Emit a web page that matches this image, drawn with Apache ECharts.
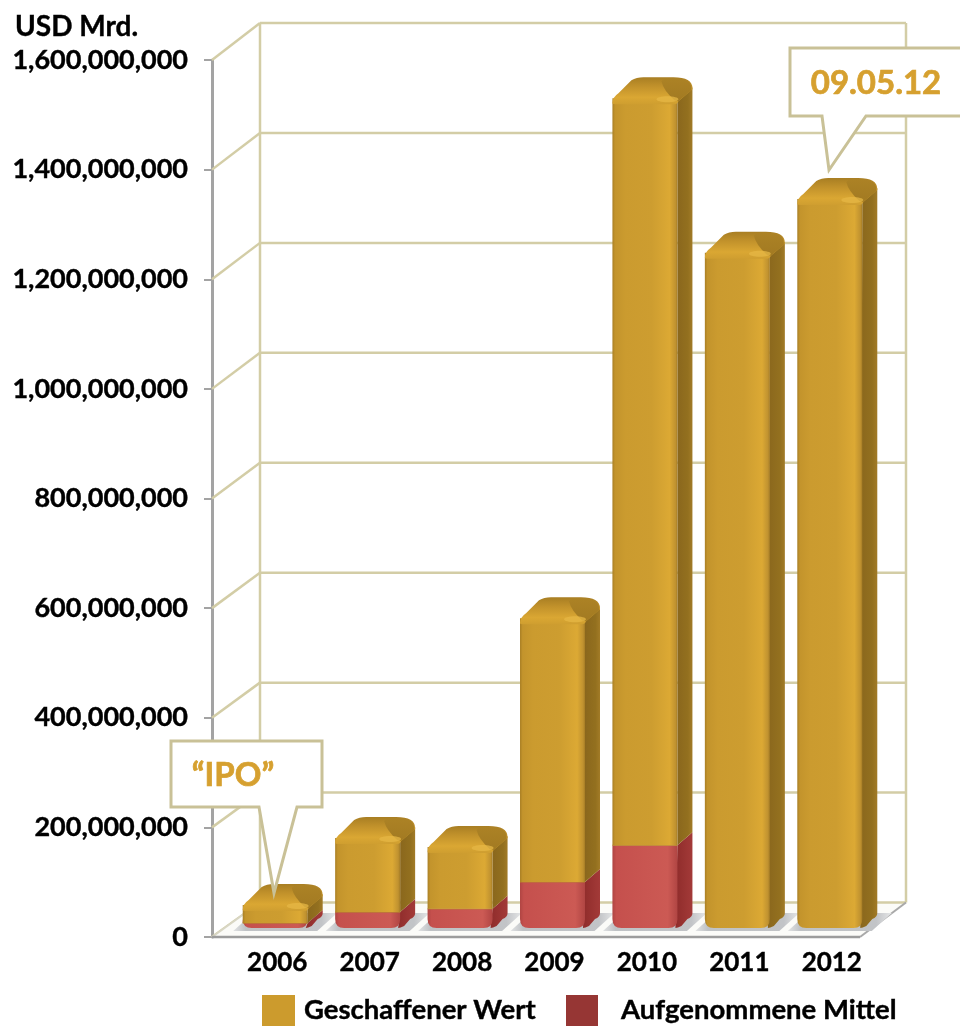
<!DOCTYPE html>
<html><head><meta charset="utf-8">
<style>html,body{margin:0;padding:0;background:#fff}#c{width:960px;height:1026px}</style>
<script src="https://cdn.jsdelivr.net/npm/echarts@6/dist/echarts.min.js"></script>
</head><body><div id="c"></div>
<script>
const categories = ['2006','2007','2008','2009','2010','2011','2012'];
const createdValue = [33000000,135000000,113000000,481000000,1363000000,1232000000,1330000000];
const raisedFunds = [9000000,29000000,35000000,84000000,151000000,0,0];
const axisTicks = [0,200000000,400000000,600000000,800000000,1000000000,1200000000,1400000000,1600000000];
const seriesNames = ['Geschaffener Wert','Aufgenommene Mittel'];
const titleText = 'USD Mrd.';
const calloutTexts = ['\u201CIPO\u201D','09.05.12'];

const FONT = 'Lato';
const WALL = '#D3CDA6';
const GOLD = '#CC9B2D';
const RED = '#963634';
const AXIS_SHIFT = 19;
const FLOOR_END = 18;
const hGrad = (stops) => ({type:'linear',x:0,y:0,x2:1,y2:0,colorStops:stops.map(s=>({offset:s[0],color:s[1]}))});
const vGrad = (stops) => ({type:'linear',x:0,y:0,x2:0,y2:1,colorStops:stops.map(s=>({offset:s[0],color:s[1]}))});

function renderWall(params, api){
  const cs = params.coordSys;
  const v = api.value(0);
  const t = v/1600000000;
  const y = api.coord([0,v])[1];
  const ax = cs.x-AXIS_SHIFT, dx = 48, dy = 34.5+2.5*t;
  const rightX = cs.x+cs.width-FLOOR_END+46;
  const kids = [];
  const st = {stroke:WALL,lineWidth:2.5,fill:null};
  kids.push({type:'line',shape:{x1:ax,y1:y,x2:ax+dx,y2:y-dy},style:st});
  if(v>0) kids.push({type:'line',shape:{x1:ax+dx,y1:y-dy,x2:rightX,y2:y-dy},style:st});
  if(v===0){
    const top = api.coord([0,1600000000])[1]-37;
    kids.push({type:'line',shape:{x1:ax+dx,y1:top,x2:ax+dx,y2:y-dy},style:st});
    kids.push({type:'line',shape:{x1:rightX,y1:top,x2:rightX,y2:y-dy},style:st});
    kids.push({type:'polygon',shape:{points:[[ax,y],[cs.x+cs.width-FLOOR_END,y],[rightX,y-dy],[ax+dx,y-dy]]},style:{fill:'#fbfbf8',stroke:null}});
    kids.push({type:'line',shape:{x1:ax+dx,y1:y-dy,x2:rightX,y2:y-dy},style:st});
    kids.push({type:'line',shape:{x1:ax,y1:y,x2:ax+dx,y2:y-dy},style:{stroke:'#D8D6C4',lineWidth:2}});
    kids.push({type:'line',shape:{x1:cs.x+cs.width-FLOOR_END,y1:y,x2:rightX,y2:y-dy},style:{stroke:'#A9A9A9',lineWidth:2}});
    kids.push({type:'line',shape:{x1:ax,y1:y,x2:cs.x+cs.width-FLOOR_END,y2:y},style:{stroke:'#9C9C9C',lineWidth:2.5}});
    categories.forEach((c,i)=>{
      const cx = api.coord([i,0])[0]-2;
      const x0=cx-42,x1=cx+42;
      kids.push({type:'polygon',shape:{points:[[x0,y-6],[x1,y-6],[x1+20,y-24],[x0+20,y-24]]},
        style:{fill:hGrad([[0,'#e2e3e4'],[0.12,'#bfc2c5'],[0.85,'#c2c4c7'],[1,'#e6e7e8']])}});
    });
  }
  return {type:'group',children:kids};
}

function renderBar(kind){
  return function(params, api){
    const i = api.value(0), val = api.value(1), base = api.value(2);
    if(!val) return null;
    const isCap = kind==='gold';
    const c = api.coord([i,base+val]);
    const b = api.coord([i,base]);
    const liftY = 9;
    const cx = c[0]-2, w = 65, x0=cx-w/2, x1=cx+w/2;
    const yt = c[1]-liftY, yb = b[1]-liftY;
    const sx = 15, sy = 13;
    const kids = [];
    const r = base===0?9:0;
    const frontFill = kind==='gold'
      ? hGrad([[0,'#A97F25'],[0.04,'#C3942C'],[0.2,'#CB9B2F'],[0.6,'#CD9D30'],[0.88,'#DCA934'],[0.97,'#C09230'],[1,'#A57C25']])
      : hGrad([[0,'#B04543'],[0.06,'#C5504D'],[0.85,'#CC5A54'],[1,'#B04543']]);
    const sideFill = kind==='gold'
      ? hGrad([[0,'#8A671D'],[0.7,'#93701F'],[1,'#A27B27']])
      : hGrad([[0,'#8F2C2B'],[1,'#A33A38']]);
    // side face
    const sideTop = isCap ? yt+2 : yt;
    kids.push({type:'path',shape:{pathData:
      `M${x1} ${sideTop} L${x1+sx} ${sideTop-sy} L${x1+sx} ${yb-sy-(r?2:0)} `+
      (r?`Q${x1+sx} ${yb-sy+2} ${x1+sx-5} ${yb-sy+4} L${x1+4} ${yb-2} Q${x1} ${yb} ${x1-2} ${yb} Z`:`L${x1} ${yb} Z`)},
      style:{fill:sideFill}});
    // front face
    kids.push({type:'path',shape:{pathData:
      `M${x0} ${yt} L${x1} ${yt} L${x1} ${yb-r} Q${x1} ${yb} ${x1-r} ${yb} L${x0+r} ${yb} Q${x0} ${yb} ${x0} ${yb-r} Z`},
      style:{fill:frontFill}});
    if(isCap){
      // rounded top cap
      const tb = yt-21;
      kids.push({type:'path',shape:{pathData:
        `M${x0} ${yt+5} Q${x0} ${yt-1} ${x0+6} ${yt-5} L${x0+19} ${tb+3} Q${x0+24} ${tb} ${x0+31} ${tb} L${x1-4} ${tb} Q${x1+sx} ${tb} ${x1+sx} ${tb+11} `+
        `L${x1+sx} ${yt-9} L${x1+1} ${yt+3} Q${x1} ${yt+6} ${x1-3} ${yt+6} L${x0+3} ${yt+6} Q${x0} ${yt+6} ${x0} ${yt+5} Z`},
        style:{fill:vGrad([[0,'#A87E23'],[0.35,'#C2922B'],[0.75,'#DAA733'],[1,'#CF9E30']])}});
      // darker right part of the cap
      kids.push({type:'path',shape:{pathData:
        `M${x1-3} ${yt+2} Q${x1-14} ${yt-8} ${x1-16} ${tb+4} Q${x1-14} ${tb+1} ${x1-8} ${tb+1} L${x1-4} ${tb+1} Q${x1+sx-1} ${tb+1} ${x1+sx-1} ${tb+11} L${x1+sx-1} ${yt-8} L${x1+1} ${yt+3} Z`},
        style:{fill:vGrad([[0,'#AC8225'],[1,'#A27A22']])}});
      // highlight at the front corner
      kids.push({type:'ellipse',shape:{cx:x1-10,cy:yt+1,rx:11,ry:3},style:{fill:'#E6B745',opacity:0.75}});
    } else {
      kids.push({type:'line',shape:{x1:x0,y1:yt,x2:x1,y2:yt},style:{stroke:'#B8872C',lineWidth:1}});
    }
    return {type:'group',children:kids};
  };
}

function calloutGraphic(rect, tail, text, fontSize, tx, ty){
  const [l,t,r,b] = rect;
  const pts = [[l,t],[r,t],[r,b],[tail[1],b],[tail[2],tail[3]],[tail[0],b],[l,b]];
  return [
    {type:'polygon',z:100,shape:{points:pts},style:{fill:'#fff',stroke:'#C9C197',lineWidth:3}},
    {type:'text',z:101,x:tx,y:ty,style:{text:text,fill:'#D6A02F',font:`bold ${fontSize}px ${FONT}`,textAlign:'center',textVerticalAlign:'middle',stroke:'#D6A02F',lineWidth:0.7}}
  ];
}

const chart = echarts.init(document.getElementById('c'),null,{renderer:'canvas'});
const ink = {color:'#000',fontFamily:FONT,fontWeight:'bold',textBorderColor:'#000',textBorderWidth:0.4};
chart.setOption({
  animation:false,
  backgroundColor:'#fff',
  title:{text:titleText,left:15,top:13,padding:0,textStyle:{...ink,fontSize:28}},
  grid:{left:231,top:60,width:647,height:877,containLabel:false},
  xAxis:{type:'category',data:categories,axisLine:{show:false},axisTick:{show:false},splitLine:{show:false},
    axisLabel:{...ink,fontSize:26,margin:13}},
  yAxis:{type:'value',min:0,max:1600000000,interval:200000000,offset:AXIS_SHIFT,
    axisLine:{show:true,lineStyle:{color:'#A3A3A3',width:3}},
    axisTick:{show:true,length:8,lineStyle:{color:'#A3A3A3',width:2}},
    splitLine:{show:false},
    axisLabel:{...ink,fontSize:27,margin:24,padding:[8,0,0,0],
      formatter:v=>String(v).replace(/\B(?=(\d{3})+(?!\d))/g,',')}},
  legend:[
    {data:[seriesNames[0]],left:262,top:995,padding:0,itemWidth:33,itemHeight:31,selectedMode:false,icon:'rect',
      textStyle:{...ink,fontSize:27.5,padding:[0,0,0,4]}},
    {data:[seriesNames[1]],left:566,top:995,padding:0,itemWidth:32,itemHeight:31,selectedMode:false,icon:'rect',
      textStyle:{...ink,fontSize:27.5,padding:[0,0,0,18]}}
  ],
  series:[
    {type:'custom',name:'wall',z:1,silent:true,renderItem:renderWall,encode:{y:0},data:axisTicks.map(v=>[v])},
    {type:'custom',name:seriesNames[1],z:3,renderItem:renderBar('red'),itemStyle:{color:RED},
      encode:{x:0,y:1},data:raisedFunds.map((v,i)=>[i,v,0])},
    {type:'custom',name:seriesNames[0],z:4,renderItem:renderBar('gold'),itemStyle:{color:GOLD},
      encode:{x:0,y:1},data:createdValue.map((v,i)=>[i,v,raisedFunds[i]])}
  ],
  graphic:{elements:[
    ...calloutGraphic([171,741,322,807],[259,297,274,893],calloutTexts[0],33,233,775),
    ...calloutGraphic([790,48,975,116],[822,866,829,170],calloutTexts[1],33,876,83)
  ]}
});
</script></body></html>
